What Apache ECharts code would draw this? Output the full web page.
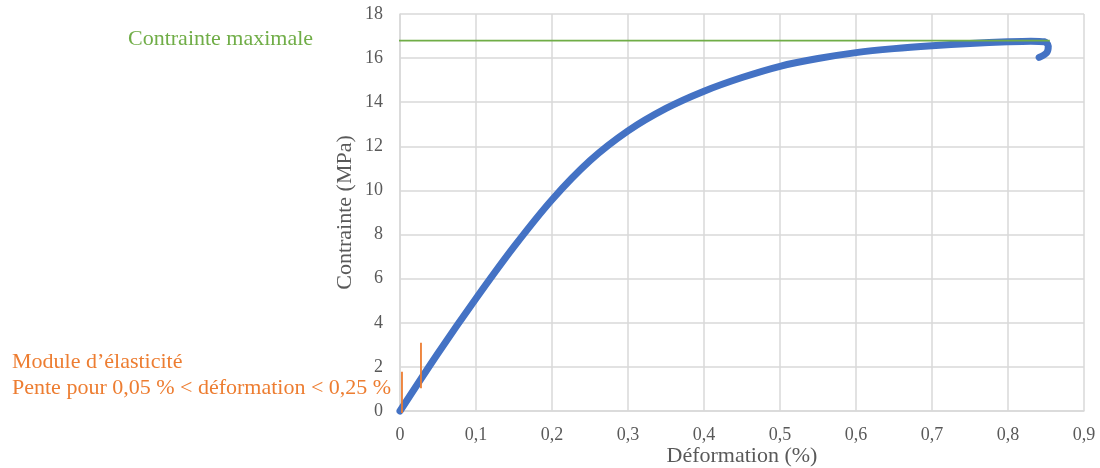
<!DOCTYPE html>
<html>
<head>
<meta charset="utf-8">
<script src="https://cdn.jsdelivr.net/npm/echarts@6/dist/echarts.min.js"></script>
<style>html,body{margin:0;padding:0;background:#fff}#c{width:1100px;height:468px}</style>
</head>
<body>
<div id="c"></div>
<script>
// Stress-strain curve (x: déformation %, y: contrainte MPa)
const strain = [0.000, 0.050, 0.100, 0.150, 0.200, 0.250, 0.300, 0.350, 0.400, 0.450, 0.500, 0.550, 0.600, 0.650, 0.700, 0.750, 0.800, 0.830, 0.848, 0.853, 0.851, 0.841];
const stress = [0.00, 2.62, 5.10, 7.45, 9.58, 11.35, 12.70, 13.72, 14.50, 15.12, 15.63, 15.98, 16.25, 16.43, 16.56, 16.66, 16.74, 16.77, 16.74, 16.55, 16.25, 16.03];
// Max stress reference line
const maxLineX = [-0.103, 0.855];
const maxStress = 16.79;
// Elastic modulus markers
const modX1 = 0.0026, modY1 = [1.78, -0.09];
const modX2 = 0.0276, modY2 = [3.10, 1.03];
const xTicks = {min: 0, max: 0.9, step: 0.1};
const yTicks = {min: 0, max: 18, step: 2};
const labelMax = 'Contrainte maximale';
const labelMod1 = 'Module d’élasticité';
const labelMod2 = 'Pente pour 0,05 % < déformation < 0,25 %';

const curve = strain.map((x, i) => [x, stress[i]]);
const FONT = '"Liberation Serif", "Times New Roman", serif';
const chart = echarts.init(document.getElementById('c'));
chart.setOption({
  animation: false,
  grid: {left: 400, right: 16, top: 14, bottom: 57, containLabel: false, outerBoundsMode: 'none'},
  xAxis: {
    type: 'value', min: xTicks.min, max: xTicks.max, interval: xTicks.step,
    name: 'Déformation (%)', nameLocation: 'middle', nameGap: 34, nameMoveOverlap: false,
    nameTextStyle: {fontFamily: FONT, fontSize: 22, color: '#595959'},
    axisLine: {show: true, lineStyle: {color: '#d9d9d9', width: 1.5}},
    axisTick: {show: false},
    axisLabel: {fontFamily: FONT, fontSize: 18, color: '#595959', margin: 15,
      formatter: v => (v === 0 ? '0' : v.toFixed(1).replace('.', ','))},
    splitLine: {show: true, lineStyle: {color: '#d9d9d9', width: 1.5}}
  },
  yAxis: {
    type: 'value', min: yTicks.min, max: yTicks.max, interval: yTicks.step,
    name: 'Contrainte (MPa)', nameLocation: 'middle', nameGap: 44, nameMoveOverlap: false,
    nameTextStyle: {fontFamily: FONT, fontSize: 22, color: '#595959'},
    axisLine: {show: true, lineStyle: {color: '#d9d9d9', width: 1.5}},
    axisTick: {show: false},
    axisLabel: {fontFamily: FONT, fontSize: 18, color: '#595959', margin: 17},
    splitLine: {show: true, lineStyle: {color: '#d9d9d9', width: 1.5}}
  },
  series: [
    {
      type: 'line', data: curve, smooth: 0.3, showSymbol: false, clip: false,
      lineStyle: {color: '#4472c4', width: 7, cap: 'round', join: 'round'}, z: 3
    },
    {
      type: 'line', data: maxLineX.map(x => [x, maxStress]), showSymbol: false, clip: false,
      lineStyle: {color: '#70ad47', width: 1.8}, z: 4
    },
    {
      type: 'line', data: modY1.map(y => [modX1, y]), showSymbol: false, clip: false,
      lineStyle: {color: '#ed7d31', width: 1.8}, z: 4
    },
    {
      type: 'line', data: modY2.map(y => [modX2, y]), showSymbol: false, clip: false,
      lineStyle: {color: '#ed7d31', width: 1.8}, z: 4
    }
  ],
  graphic: [
    {type: 'text', left: 128, top: 28, style: {text: labelMax, fill: '#70ad47', font: '22px ' + FONT}},
    {type: 'text', left: 12, top: 351, style: {text: labelMod1, fill: '#ed7d31', font: '22px ' + FONT}},
    {type: 'text', left: 12, top: 377, style: {text: labelMod2, fill: '#ed7d31', font: '22px ' + FONT}}
  ]
});
</script>
</body>
</html>
